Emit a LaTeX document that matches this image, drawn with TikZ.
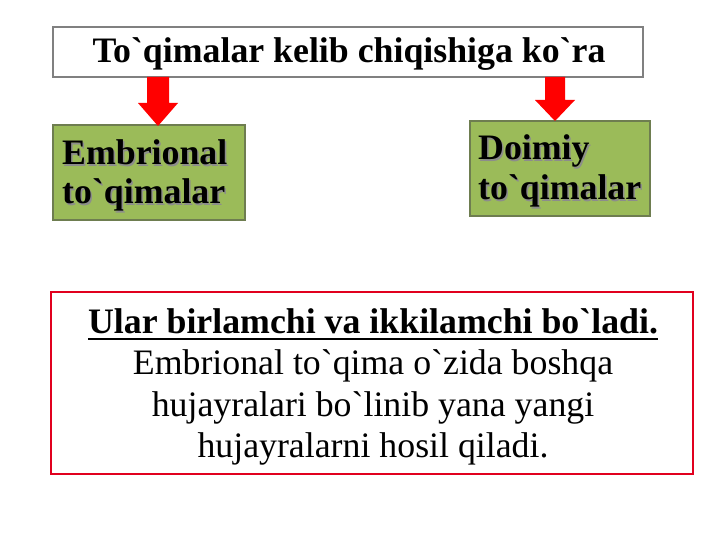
\documentclass[tikz,border=0pt]{standalone}
\usepackage{fontspec}
\setmainfont{Liberation Serif}[Ligatures=TeXOff]
\definecolor{boxgreen}{RGB}{155,187,89}
\definecolor{greenborder}{RGB}{110,125,80}
\definecolor{boxred}{RGB}{225,0,30}
\newcommand\shd[1]{\rlap{\raisebox{-1.5pt}{\hspace{1.5pt}\textcolor{black!45}{#1}}}#1}
\newcommand\myul[1]{\leavevmode\setbox0\hbox{#1}\rlap{\copy0}\rule[-7pt]{\wd0}{2.5pt}}
\begin{document}
\begin{tikzpicture}[x=1pt,y=-1pt,
  bigtxt/.style={font=\fontsize{35.8}{40}\selectfont\bfseries, inner sep=0pt},
  bodytxt/.style={font=\fontsize{35.8}{40}\selectfont, inner sep=0pt, anchor=base},
  greenbox/.style={draw=greenborder, line width=1.5pt, fill=boxgreen},
  redarrow/.style={fill=red, draw=none}]
\useasboundingbox (0,0) rectangle (720,540);
\fill[white] (0,0) rectangle (720,540);

% title
\draw[draw=black!50, line width=1.5pt, fill=white] (53,27) rectangle (643,77);
\node[bigtxt, anchor=base] (title) at (349,63) {To`qimalar kelib chiqishiga ko`ra};

% green boxes
\draw[greenbox] (53,125) rectangle (245,220);
\node[bigtxt, anchor=base west] (emb1) at (62,165) {\shd{Embrional}};
\node[bigtxt, anchor=base west] (emb2) at (62,204) {\shd{to`qimalar}};

\draw[greenbox] (470,121) rectangle (650,216);
\node[bigtxt, anchor=base west] (doi1) at (478,160) {\shd{Doimiy}};
\node[bigtxt, anchor=base west] (doi2) at (478,200) {\shd{to`qimalar}};

% arrows
\fill[redarrow] (147,77) -- (169,77) -- (169,103) -- (178,103) -- (158,126) -- (138,103) -- (147,103) -- cycle;
\fill[redarrow] (545,77) -- (565,77) -- (565,100) -- (575,100) -- (555,121) -- (535,100) -- (545,100) -- cycle;

% red box
\draw[draw=boxred, line width=2.5pt, fill=white] (51,292) rectangle (693,474);
\node[bodytxt, font=\fontsize{35.8}{40}\selectfont\bfseries] (l1) at (373,333) {\myul{Ular birlamchi va ikkilamchi bo`ladi.}};
\node[bodytxt] (l2) at (373,374) {Embrional to`qima o`zida boshqa};
\node[bodytxt] (l3) at (373,416) {hujayralari bo`linib yana yangi};
\node[bodytxt] (l4) at (373,457) {hujayralarni hosil qiladi.};
\end{tikzpicture}
\end{document}
